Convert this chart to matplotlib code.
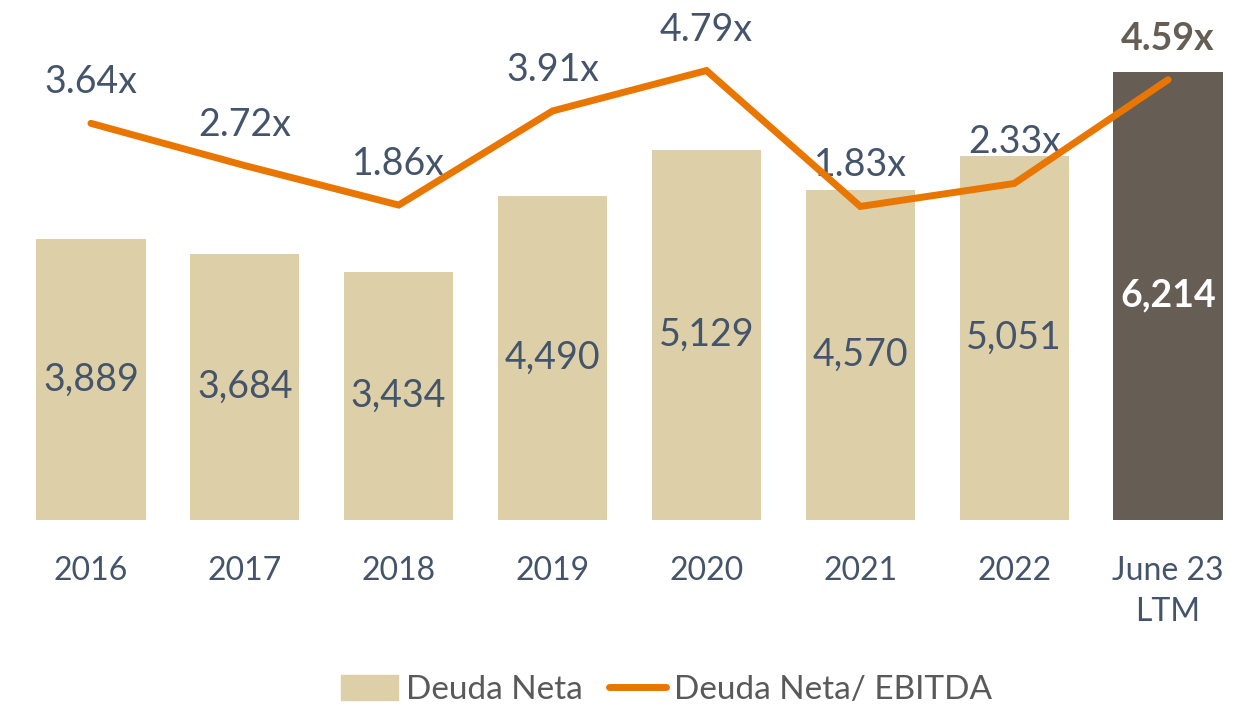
import matplotlib
matplotlib.use("Agg")
import matplotlib.pyplot as plt
from matplotlib.patches import Patch
from matplotlib.lines import Line2D

plt.rcParams["font.family"] = ["Lato", "DejaVu Sans"]

# ── Data ──────────────────────────────────────────────────────────────────────
periods = ["2016", "2017", "2018", "2019", "2020", "2021", "2022", "June 23\nLTM"]
deuda_neta = [3889, 3684, 3434, 4490, 5129, 4570, 5051, 6214]
deuda_ebitda = [3.64, 2.72, 1.86, 3.91, 4.79, 1.83, 2.33, 4.59]

BAR = "#DDD0A8"
BAR_LAST = "#665E55"
LINE = "#E97600"
TEXT = "#44546A"
LEGEND_TEXT = "#595959"

W, H = 1251, 711
fig = plt.figure(figsize=(W / 100, H / 100), dpi=100)
ax = fig.add_axes([14 / W, (H - 520) / H, 1231 / W, 505 / H])
ax2 = ax.twinx()

x = list(range(len(periods)))
colors = [BAR] * (len(periods) - 1) + [BAR_LAST]
ax.bar(x, deuda_neta, width=0.71, color=colors, zorder=1)

# bar value labels, centred in each bar
for i, v in enumerate(deuda_neta):
    last = i == len(periods) - 1
    ax.text(i, v / 2, f"{v:,}", ha="center", va="center",
            fontsize=27, color="white" if last else TEXT,
            fontweight="bold" if last else "normal", zorder=2)

ax.set_xlim(-0.5, len(periods) - 0.5)
ax.set_ylim(0, 7000)
ax.set_xticks(x)
ax.set_xticklabels(periods, fontsize=23, color=TEXT, linespacing=1.45)
ax.tick_params(axis="x", length=0, pad=26)
ax.set_yticks([])
for sp in ax.spines.values():
    sp.set_visible(False)

# ratio line on the secondary axis
ax2.set_ylim(-5, 6)
ax2.set_yticks([])
for sp in ax2.spines.values():
    sp.set_visible(False)
for i, v in enumerate(deuda_ebitda):
    last = i == len(periods) - 1
    ax2.annotate(f"{v:.2f}x", (i, v), xytext=(0, 41), textcoords="offset pixels",
                 ha="center", va="center",
                 fontsize=27, color=BAR_LAST if last else TEXT,
                 fontweight="bold" if last else "normal", zorder=1)
ax2.plot(x, deuda_ebitda, color=LINE, linewidth=5, solid_capstyle="round",
         solid_joinstyle="miter", zorder=3)

handles = [Patch(color=BAR), Line2D([], [], color=LINE, linewidth=5, solid_capstyle="round")]
fig.legend(handles, ["Deuda Neta", "Deuda Neta/ EBITDA"], loc="center",
           bbox_to_anchor=(0.533, (H - 690) / H), ncol=2, frameon=False,
           fontsize=24, labelcolor=LEGEND_TEXT, handlelength=1.7, handleheight=0.75,
           handletextpad=0.25, columnspacing=0.8)

fig.savefig("out.png", dpi=100, facecolor="white")
